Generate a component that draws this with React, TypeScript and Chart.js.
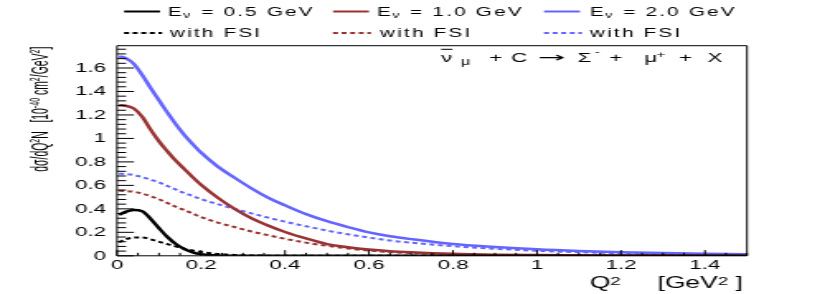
import React, { useEffect, useRef } from 'react';
import { Chart, registerables } from 'chart.js';

Chart.register(...registerables);

// ---------------- data ----------------
const Q2 = [0.005, 0.02, 0.04, 0.06, 0.08, 0.10, 0.12, 0.14, 0.16, 0.18, 0.20, 0.24, 0.28, 0.32, 0.36, 0.40, 0.45, 0.50, 0.55, 0.60, 0.65, 0.70, 0.80, 0.90, 1.00, 1.10, 1.20, 1.30, 1.40, 1.50];

const sigma05 = [0.35, 0.375, 0.39, 0.38, 0.315, 0.235, 0.16, 0.10, 0.058, 0.03, 0.014, 0.003, 0.0005, 0, 0, 0, 0, 0, 0, 0, 0, 0, 0, 0, 0, 0, 0, 0, 0, 0];
const sigma10 = [1.283, 1.278, 1.255, 1.185, 1.075, 0.975, 0.89, 0.81, 0.74, 0.67, 0.605, 0.495, 0.40, 0.32, 0.257, 0.203, 0.148, 0.10, 0.073, 0.053, 0.039, 0.03, 0.017, 0.01, 0.006, 0.004, 0.002, 0.0015, 0.001, 0.0005];
const sigma20 = [1.70, 1.685, 1.635, 1.54, 1.43, 1.325, 1.22, 1.12, 1.03, 0.952, 0.88, 0.76, 0.665, 0.575, 0.495, 0.43, 0.355, 0.295, 0.245, 0.20, 0.167, 0.142, 0.10, 0.075, 0.055, 0.041, 0.031, 0.023, 0.018, 0.013];
const sigma05FSI = [0.115, 0.14, 0.155, 0.156, 0.14, 0.12, 0.10, 0.08, 0.061, 0.045, 0.032, 0.016, 0.007, 0.003, 0.001, 0, 0, 0, 0, 0, 0, 0, 0, 0, 0, 0, 0, 0, 0, 0];
const sigma10FSI = [0.554, 0.552, 0.546, 0.53, 0.508, 0.482, 0.45, 0.418, 0.39, 0.36, 0.33, 0.283, 0.245, 0.207, 0.175, 0.145, 0.112, 0.085, 0.062, 0.045, 0.032, 0.024, 0.013, 0.007, 0.004, 0.002, 0.001, 0.0005, 0.0003, 0.0002];
const sigma20FSI = [0.70, 0.697, 0.688, 0.67, 0.648, 0.625, 0.595, 0.565, 0.535, 0.51, 0.483, 0.44, 0.40, 0.362, 0.325, 0.29, 0.252, 0.215, 0.183, 0.155, 0.13, 0.112, 0.082, 0.06, 0.043, 0.031, 0.022, 0.016, 0.011, 0.008];

const seriesLabels = ['Eν = 0.5 GeV', 'Eν = 1.0 GeV', 'Eν = 2.0 GeV', 'with FSI', 'with FSI', 'with FSI'];
const seriesValues = [sigma05, sigma10, sigma20, sigma05FSI, sigma10FSI, sigma20FSI];
const seriesColors = ['#000000', '#993333', '#6464ff', '#000000', '#993333', '#6464ff'];

const xRange = [0, 1.5];
const yRange = [0, 1.79];
const majorStep = 0.2;
const xMinorStep = 0.05;
const yMinorStep = 0.04;

// titles as [text, isSuperscript] pieces
const xTitlePieces: [string, boolean][] = [['Q', false], ['2', true], ['     [', false], ['GeV', false], ['2', true], [' ]', false]];
const yTitlePieces: [string, boolean][] = [['dσ/dQ', false], ['2', true], ['N   [10', false], ['-40', true], [' cm', false], ['2', true], ['/GeV', false], ['2', true], [']', false]];

// ---------------- layout (logical canvas is stretched horizontally) ----------------
const W = 830;
const H = 294;
const STRETCH = 1.65;
const LW = Math.round(W / STRETCH);
const FONT = '"Liberation Sans", Arial, Helvetica, sans-serif';

const PLOT_LEFT = 70.9;
const PLOT_RIGHT = 452.7;
const PLOT_TOP = 45.7;
const PLOT_BOTTOM = 255.8;

const fmt = (v: number) => String(Math.round(v * 100) / 100);

const framePlugin = {
  id: 'rootFrame',
  afterDatasetsDraw(chart: any) {
    const { ctx, chartArea: a, scales } = chart;
    const xs = scales.x;
    const ys = scales.y;
    ctx.save();
    ctx.strokeStyle = '#000';
    ctx.lineWidth = 1;
    ctx.beginPath();
    ctx.rect(a.left, a.top, a.right - a.left, a.bottom - a.top);
    ctx.stroke();
    const nx = Math.round((xRange[1] - xRange[0]) / xMinorStep);
    const perX = Math.round(majorStep / xMinorStep);
    ctx.beginPath();
    for (let i = 0; i <= nx; i++) {
      const px = xs.getPixelForValue(xRange[0] + i * xMinorStep);
      const len = i % perX === 0 ? 5.7 : 3;
      ctx.moveTo(px, a.bottom);
      ctx.lineTo(px, a.bottom - len);
    }
    const ny = Math.floor((yRange[1] - yRange[0]) / yMinorStep + 1e-6);
    const perY = Math.round(majorStep / yMinorStep);
    for (let i = 0; i <= ny; i++) {
      const py = ys.getPixelForValue(yRange[0] + i * yMinorStep);
      const len = i % perY === 0 ? 10.3 : 5.5;
      ctx.moveTo(a.left, py);
      ctx.lineTo(a.left + len, py);
    }
    ctx.stroke();
    ctx.restore();
  },
};

const LEG_COL_X = [75.2, 201.8, 329.7];
const LEG_LINE_LEN = [21.8, 23];
const LEG_TEXT_X = [[101.8, 228.5, 357.6], [103, 230.3, 357.6]];
const LEG_LINE_Y = [11.5, 33];
const LEG_BASE_Y = [15.8, 37.3];

const legendPlugin = {
  id: 'rootLegend',
  afterDraw(chart: any) {
    const ctx = chart.ctx;
    chart.data.datasets.forEach((ds: any, i: number) => {
      const col = i % 3;
      const row = Math.floor(i / 3);
      const lx = LEG_COL_X[col];
      const ly = LEG_LINE_Y[row];
      ctx.save();
      ctx.strokeStyle = ds.borderColor;
      ctx.lineWidth = 2;
      ctx.setLineDash(ds.borderDash || []);
      ctx.beginPath();
      ctx.moveTo(lx, ly);
      ctx.lineTo(lx + LEG_LINE_LEN[row], ly);
      ctx.stroke();
      ctx.setLineDash([]);
      ctx.fillStyle = '#000';
      ctx.textBaseline = 'alphabetic';
      ctx.textAlign = 'left';
      (ctx as any).letterSpacing = '1.35px';
      let tx = LEG_TEXT_X[row][col];
      const by = LEG_BASE_Y[row];
      const label: string = ds.label;
      if (label.startsWith('Eν')) {
        ctx.font = `12.5px ${FONT}`;
        ctx.fillText('E', tx, by);
        tx += ctx.measureText('E').width;
        ctx.font = `8.5px ${FONT}`;
        ctx.fillText('ν', tx - 0.5, by + 2.5);
        tx += ctx.measureText('ν').width;
        ctx.font = `12.5px ${FONT}`;
        ctx.fillText(label.slice(2), tx, by);
      } else {
        ctx.font = `12.5px ${FONT}`;
        ctx.fillText(label, tx, by);
      }
      ctx.restore();
    });
  },
};

// reaction label pieces: text, x, baseline y, font size, target width (0 = natural), font family
const ARROW_FONT = '"DejaVu Sans", sans-serif';
const reactionPieces: [string, number, number, number, number, string][] = [
  ['ν', 267.3, 61.5, 13.5, 0, FONT],
  ['μ', 279.3, 64.8, 10, 0, FONT],
  ['+', 296.5, 61.5, 13.5, 0, FONT],
  ['C', 309.8, 61.5, 13.5, 0, FONT],
  ['→', 325.8, 61.5, 13.5, 16.6, ARROW_FONT],
  ['Σ', 350, 61.5, 13.5, 0, FONT],
  ['-', 360.4, 55, 9, 0, FONT],
  ['+', 369.2, 61.5, 13.5, 0, FONT],
  ['μ', 390.6, 61.5, 13.5, 0, FONT],
  ['+', 397.8, 57.5, 9.5, 0, FONT],
  ['+', 411.6, 61.5, 13.5, 0, FONT],
  ['X', 428.8, 61.5, 13.5, 0, FONT],
];

const textPlugin = {
  id: 'rootTexts',
  afterDraw(chart: any) {
    const ctx = chart.ctx;
    const a = chart.chartArea;
    ctx.save();
    ctx.fillStyle = '#000';
    ctx.strokeStyle = '#000';
    ctx.textBaseline = 'alphabetic';
    ctx.textAlign = 'left';
    // reaction label
    reactionPieces.forEach(([t, x, y, s, tw, fam]) => {
      ctx.font = `${s}px ${fam}`;
      if (tw > 0) {
        const w = ctx.measureText(t).width;
        ctx.save();
        ctx.translate(x, y);
        ctx.scale(tw / w, 1);
        ctx.fillText(t, 0, 0);
        ctx.restore();
      } else {
        ctx.fillText(t, x, y);
      }
    });
    ctx.lineWidth = 1;
    ctx.beginPath();
    ctx.moveTo(267.3, 49.3);
    ctx.lineTo(274.2, 49.3);
    ctx.stroke();

    // x axis title, right aligned to the plot's right edge
    const xMain = `16px ${FONT}`;
    const xSup = `11.5px ${FONT}`;
    let total = 0;
    xTitlePieces.forEach(([t, sup]) => { ctx.font = sup ? xSup : xMain; total += ctx.measureText(t).width; });
    let cx = a.right - 2.5 - total;
    const xb = 288;
    xTitlePieces.forEach(([t, sup]) => {
      ctx.font = sup ? xSup : xMain;
      ctx.fillText(t, cx, sup ? xb - 3.5 : xb);
      cx += ctx.measureText(t).width;
    });

    // y axis title, rotated, ending at the plot's top
    const yMain = `14px ${FONT}`;
    const ySup = `9.5px ${FONT}`;
    let ytotal = 0;
    yTitlePieces.forEach(([t, sup]) => { ctx.font = sup ? ySup : yMain; ytotal += ctx.measureText(t).width; });
    const targetLen = 125;
    const yTop = a.top + 1;
    ctx.save();
    ctx.translate(29.2, yTop + targetLen);
    ctx.rotate(-Math.PI / 2);
    ctx.scale(targetLen / ytotal, 1);
    let u = 0;
    yTitlePieces.forEach(([t, sup]) => {
      ctx.font = sup ? ySup : yMain;
      ctx.fillText(t, u, sup ? -5.5 : 0);
      u += ctx.measureText(t).width;
    });
    ctx.restore();
    ctx.restore();
  },
};

export default function App() {
  const canvasRef = useRef<HTMLCanvasElement | null>(null);

  useEffect(() => {
    const canvas = canvasRef.current;
    if (!canvas) return;
    const datasets = seriesValues.map((vals, i) => ({
      label: seriesLabels[i],
      data: Q2.map((q, k) => ({ x: q, y: vals[k] })),
      borderColor: seriesColors[i],
      backgroundColor: seriesColors[i],
      borderWidth: i < 3 ? 2.5 : 2,
      borderDash: i < 3 ? [] : [3, 2.2],
      pointRadius: 0,
      fill: false,
      cubicInterpolationMode: 'monotone' as const,
    }));
    const chart = new Chart(canvas, {
      type: 'line',
      data: { datasets },
      options: {
        animation: false,
        responsive: false,
        events: [],
        layout: { padding: { top: PLOT_TOP, right: LW - PLOT_RIGHT, left: 0, bottom: 0 } },
        plugins: { legend: { display: false }, tooltip: { enabled: false }, title: { display: false } },
        scales: {
          x: {
            type: 'linear',
            min: xRange[0],
            max: xRange[1],
            grid: { display: false, drawTicks: false },
            border: { display: false },
            ticks: { stepSize: majorStep, includeBounds: false, padding: 1, color: '#000', font: { family: FONT, size: 13.5 }, maxRotation: 0, callback: (v: any) => fmt(Number(v)) },
            afterFit: (s: any) => { s.height = H - PLOT_BOTTOM; },
          },
          y: {
            type: 'linear',
            min: yRange[0],
            max: yRange[1],
            grid: { display: false, drawTicks: false },
            border: { display: false },
            ticks: { stepSize: majorStep, includeBounds: false, padding: 6.7, color: '#000', font: { family: FONT, size: 13.5 }, callback: (v: any) => fmt(Number(v)) },
            afterFit: (s: any) => { s.width = PLOT_LEFT; },
          },
        },
      },
      plugins: [framePlugin, legendPlugin, textPlugin],
    } as any);
    return () => chart.destroy();
  }, []);

  return (
    <div style={{ position: 'fixed', left: 0, top: 0, width: W, height: H, background: '#fff' }}>
      <canvas ref={canvasRef} width={LW} height={H} style={{ width: `${W}px`, height: `${H}px`, display: 'block' }} />
    </div>
  );
}
